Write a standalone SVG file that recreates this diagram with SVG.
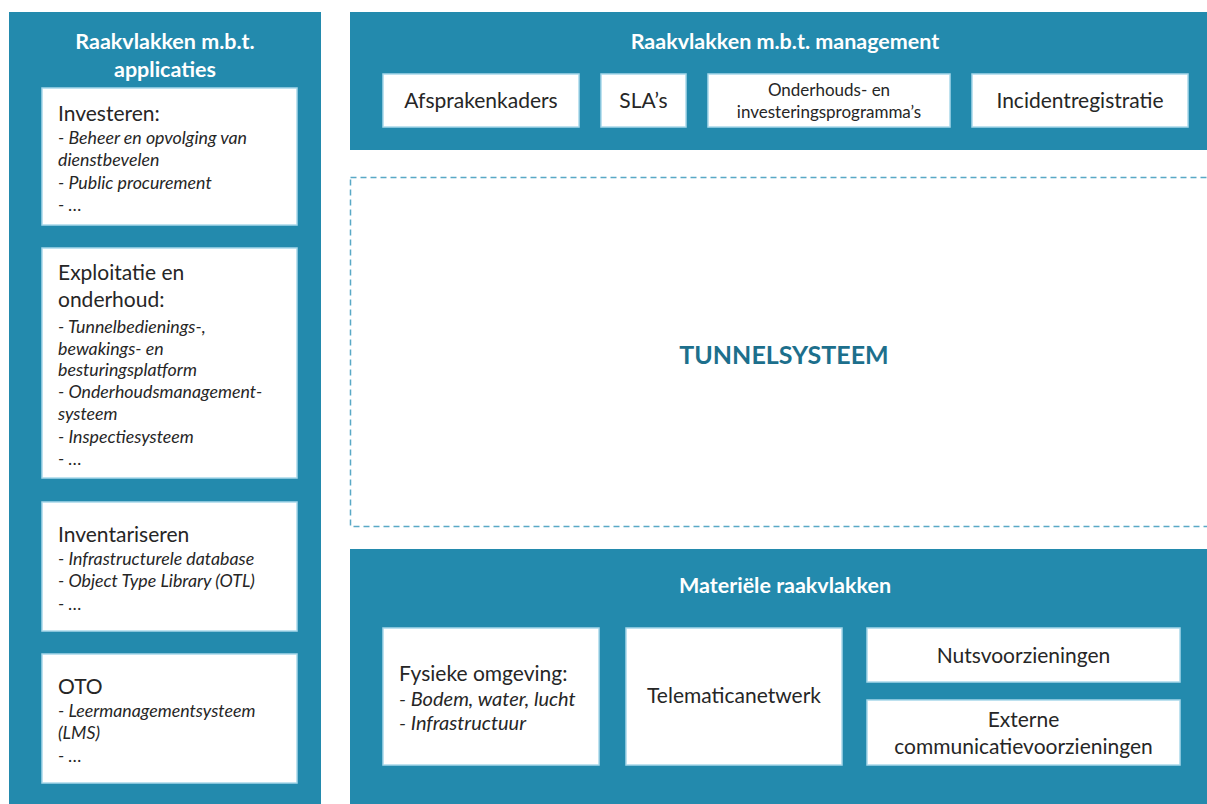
<svg xmlns="http://www.w3.org/2000/svg" width="1207" height="804" viewBox="0 0 1207 804">
<style>
.panel{fill:#238aad}
.box{fill:#ffffff;stroke:#a8d8ea;stroke-width:1.5}
.t{font-family:Lato,"Open Sans","Liberation Sans",sans-serif;fill:#262626}
.h{font-family:Lato,"Open Sans","Liberation Sans",sans-serif;fill:#ffffff;font-weight:bold;font-size:21.5px;text-anchor:middle}
.m{font-size:21px}
.s{font-size:17px}
.i{font-size:17.8px;font-style:italic}
.c{text-anchor:middle}
</style>
<rect width="1207" height="804" fill="#ffffff"/>
<g id="panel-applicaties">
<rect class="panel" x="9" y="12" width="312" height="792"/>
<text class="h" x="165" y="49">Raakvlakken m.b.t.</text>
<text class="h" x="165" y="77">applicaties</text>
</g>
<g id="node-investeren">
<rect class="box" x="42" y="88" width="255" height="137"/>
<text class="t m" x="58" y="121">Investeren:</text>
<text class="t i" x="58" y="144">- Beheer en opvolging van</text>
<text class="t i" x="58" y="166">dienstbevelen</text>
<text class="t i" x="58" y="189">- Public procurement</text>
<text class="t i" x="58" y="211">- …</text>
</g>
<g id="node-exploitatie">
<rect class="box" x="42" y="248" width="255" height="230"/>
<text class="t m" x="58" y="280">Exploitatie en</text>
<text class="t m" x="58" y="307">onderhoud:</text>
<text class="t i" x="58" y="333">- Tunnelbedienings-,</text>
<text class="t i" x="58" y="355">bewakings- en</text>
<text class="t i" x="58" y="376">besturingsplatform</text>
<text class="t i" x="58" y="398">- Onderhoudsmanagement-</text>
<text class="t i" x="58" y="420">systeem</text>
<text class="t i" x="58" y="443">- Inspectiesysteem</text>
<text class="t i" x="58" y="465">- …</text>
</g>
<g id="node-inventariseren">
<rect class="box" x="42" y="502" width="255" height="129"/>
<text class="t m" x="58" y="542">Inventariseren</text>
<text class="t i" x="58" y="565">- Infrastructurele database</text>
<text class="t i" x="58" y="587">- Object Type Library (OTL)</text>
<text class="t i" x="58" y="610">- …</text>
</g>
<g id="node-oto">
<rect class="box" x="42" y="654" width="255" height="129"/>
<text class="t m" x="58" y="694">OTO</text>
<text class="t i" x="58" y="717">- Leermanagementsysteem</text>
<text class="t i" x="58" y="739">(LMS)</text>
<text class="t i" x="58" y="762">- …</text>
</g>
<g id="panel-management">
<rect class="panel" x="350" y="12" width="857" height="138"/>
<text class="h" x="785" y="49">Raakvlakken m.b.t. management</text>
</g>
<g id="node-afsprakenkaders">
<rect class="box" x="383" y="74" width="196" height="53"/>
<text class="t m c" x="481" y="108">Afsprakenkaders</text>
</g>
<g id="node-sla">
<rect class="box" x="601" y="74" width="85" height="53"/>
<text class="t m c" x="643.5" y="108">SLA’s</text>
</g>
<g id="node-programmas">
<rect class="box" x="708" y="74" width="242" height="53"/>
<text class="t s c" x="829" y="96">Onderhouds- en</text>
<text class="t s c" x="829" y="118">investeringsprogramma’s</text>
</g>
<g id="node-incident">
<rect class="box" x="972" y="74" width="216" height="53"/>
<text class="t m c" x="1080" y="108">Incidentregistratie</text>
</g>
<g id="node-tunnelsysteem">
<rect x="350.5" y="177.5" width="870" height="349" fill="none" stroke="#5aa9c6" stroke-width="1.5" stroke-dasharray="6,4"/>
<text x="784" y="364" font-family="Lato,'Open Sans','Liberation Sans',sans-serif" font-weight="bold" font-size="25" fill="#1d6f8c" text-anchor="middle">TUNNELSYSTEEM</text>
</g>
<g id="panel-materieel">
<rect class="panel" x="350" y="549" width="857" height="255"/>
<text class="h" x="785" y="593">Materiële raakvlakken</text>
</g>
<g id="node-fysieke">
<rect class="box" x="383" y="628" width="216" height="137"/>
<text class="t m" x="399" y="681">Fysieke omgeving:</text>
<text class="t i" x="399" y="706" style="font-size:20px">- Bodem, water, lucht</text>
<text class="t i" x="399" y="730" style="font-size:20px">- Infrastructuur</text>
</g>
<g id="node-telematica">
<rect class="box" x="626" y="628" width="216" height="137"/>
<text class="t m c" x="734" y="703">Telematicanetwerk</text>
</g>
<g id="node-nuts">
<rect class="box" x="867" y="628" width="313" height="54"/>
<text class="t m c" x="1023.5" y="663">Nutsvoorzieningen</text>
</g>
<g id="node-externe">
<rect class="box" x="867" y="700" width="313" height="65"/>
<text class="t m c" x="1023.5" y="727">Externe</text>
<text class="t m c" x="1023.5" y="754">communicatievoorzieningen</text>
</g>
<g id="connectors"></g>
</svg>
